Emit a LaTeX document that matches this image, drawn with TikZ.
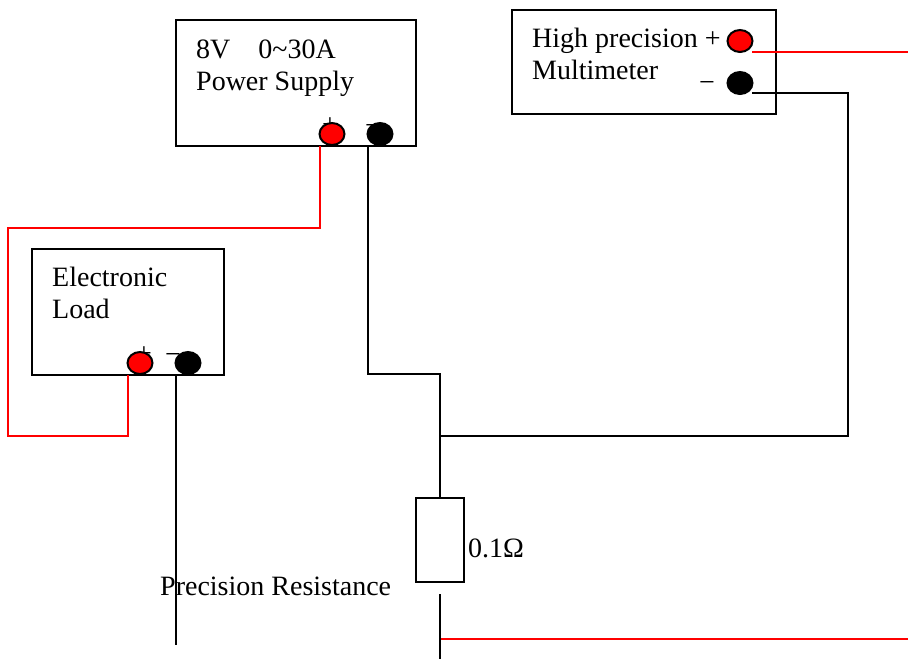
\documentclass[tikz,border=0pt]{standalone}
\usepackage{fontspec}
\setmainfont{Liberation Serif}
\usetikzlibrary{shapes.geometric}

\tikzset{
	box/.style={draw, line width=2pt, inner sep=0pt},
	boxtext/.style={anchor=base west, inner sep=0pt, font=\fontsize{28}{32}\selectfont},
	pinsign/.style={inner sep=0pt, font=\fontsize{28}{32}\selectfont},
	redpin/.style={draw, ellipse, line width=2pt, fill=red, inner sep=0pt, minimum width=25pt, minimum height=22pt},
	blackpin/.style={draw, ellipse, line width=2pt, fill=black, inner sep=0pt, minimum width=25pt, minimum height=22pt},
	blackwire/.style={line width=2pt},
	redwire/.style={line width=2pt, red}
}

\begin{document}
\begin{tikzpicture}[x=1pt, y=-1pt]
\useasboundingbox (0,0) rectangle (908,659);
\begin{scope}
	% boxes
	\node[box, minimum width=240pt, minimum height=126pt] (supply) at (296,83) {};
	\node[box, minimum width=264pt, minimum height=104pt] (meter) at (644,62) {};
	\node[box, minimum width=192pt, minimum height=126pt] (load) at (128,312) {};
	\node[box, minimum width=48pt, minimum height=84pt] (res) at (440,540) {};

	% texts
	\node[boxtext] (t1) at (196,58) {8V\hspace{28pt}0\textasciitilde 30A};
	\node[boxtext] (t2) at (196,90) {Power Supply};
	\node[boxtext] (t3) at (532,47) {High precision +};
	\node[boxtext] (t4) at (532,79) {Multimeter};
	\node[boxtext] (t5) at (699,91) {−};
	\node[boxtext] (t6) at (52,286) {Electronic};
	\node[boxtext] (t7) at (52,318) {Load};
	\node[boxtext] (t8) at (468,557) {0.1Ω};
	\node[boxtext] (t9) at (160,595) {Precision Resistance};

	% small signs at the pins
	\node[pinsign] (s1) at (330,126) {+};
	\node[pinsign] (s2) at (373,129) {−};
	\node[pinsign] (s3) at (144,355) {+};
	\node[pinsign] (s4) at (173,358) {−};

	% pins
	\node[redpin] (p1) at (332,134) {};
	\node[blackpin] (n1) at (380,134) {};
	\node[redpin] (p2) at (740,41) {};
	\node[blackpin] (n2) at (740,83) {};
	\node[redpin] (p3) at (140,363) {};
	\node[blackpin] (n3) at (188,363) {};

	% free ends of the wires
	\coordinate (a1) at (320,146);
	\coordinate (a2) at (128,375);
	\coordinate (a3) at (368,146);
	\coordinate (a4) at (176,375);
	\coordinate (a5) at (176,645);
	\coordinate (a6) at (752,52);
	\coordinate (a7) at (908,52);
	\coordinate (a8) at (752,93);
	\coordinate (j1) at (440,436);
	\coordinate (a9) at (440,594);
	\coordinate (a10) at (440,659);
	\coordinate (j2) at (440,639);
	\coordinate (a11) at (908,639);

	\draw [redwire] (a1) -- (320,228) -- (8,228) -- (8,436) -- (128,436) -- (a2);
	\draw [redwire] (a6) -- (a7);
	\draw [redwire] (j2) -- (a11);

	\draw [blackwire] (a3) -- (368,374) -- (440,374) -- (res.north);
	\draw [blackwire] (a4) -- (a5);
	\draw [blackwire] (a8) -- (848,93) -- (848,436) -- (j1);
	\draw [blackwire] (a9) -- (a10);
\end{scope}
\end{tikzpicture}
\end{document}
